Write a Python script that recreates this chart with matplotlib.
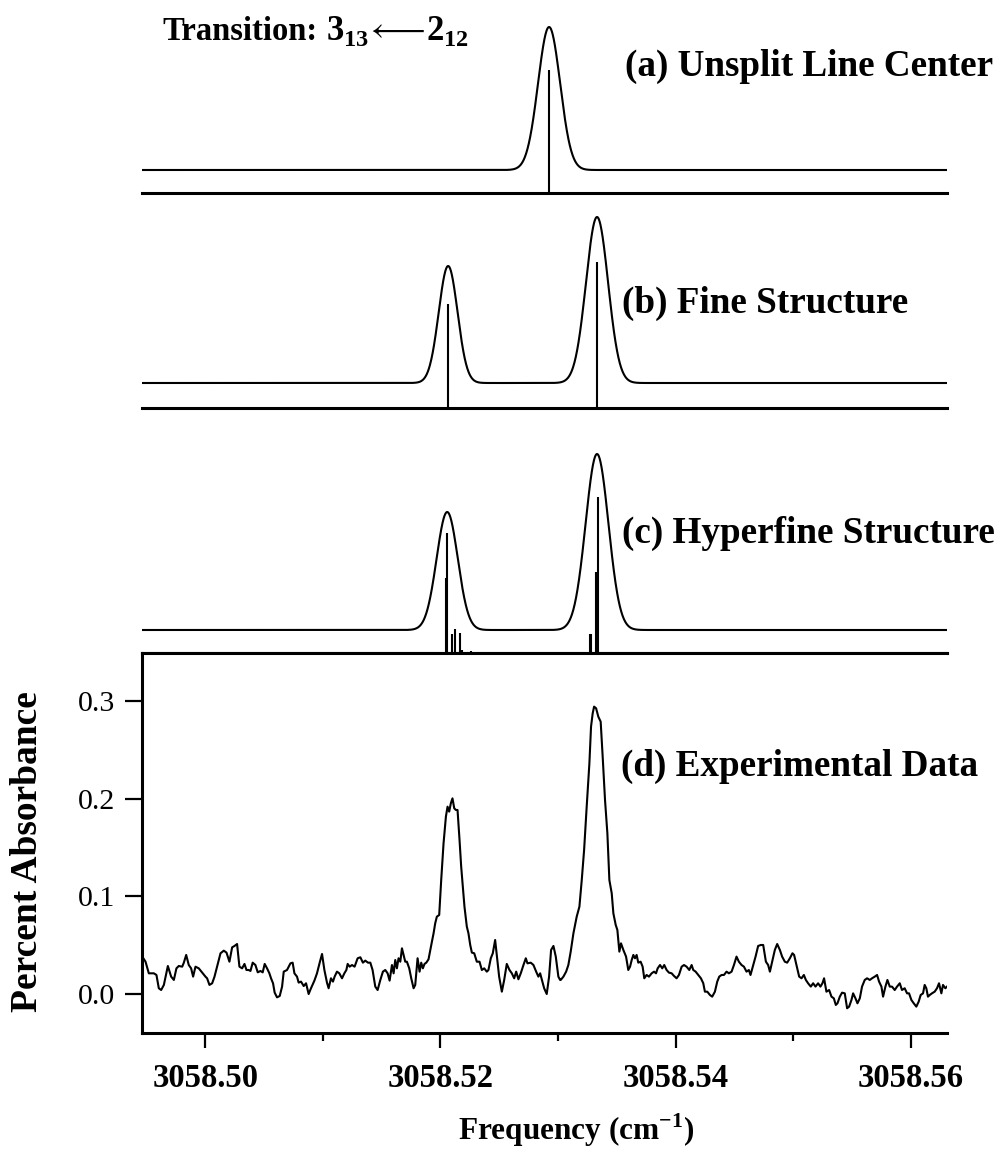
import numpy as np
import matplotlib
matplotlib.use("Agg")
import matplotlib.pyplot as plt
from matplotlib.ticker import MultipleLocator, FormatStrFormatter

plt.rcParams["font.family"] = "Liberation Serif"
plt.rcParams["mathtext.fontset"] = "custom"
plt.rcParams["mathtext.rm"] = "Liberation Serif"
plt.rcParams["mathtext.bf"] = "Liberation Serif:bold"

# frequencies are offsets from NU0 in units of 1e-3 cm^-1
NU0 = 3058.50
XMIN, XMAX = 3058.4946, 3058.5631

# (a) unsplit line center
a_centers = [29.24]
a_peaks = [1.43]
a_sigmas = [0.94]
a_base = 0.23
a_sticks = [29.24]
a_heights = [1.23]

# (b) fine structure
b_centers = [20.65, 33.32]
b_peaks = [1.17, 1.66]
b_sigmas = [0.80, 0.94]
b_base = 0.25
b_sticks = [20.65, 33.32]
b_heights = [1.04, 1.46]

# (c) hyperfine structure
c_centers = [20.57, 33.32]
c_peaks = [1.18, 1.76]
c_sigmas = [0.90, 0.97]
c_base = 0.23
c_sticks = [20.48, 20.57, 20.99, 21.25, 21.67, 21.84, 22.61,
            32.72, 32.81, 33.23, 33.40]
c_heights = [0.75, 1.20, 0.19, 0.24, 0.20, 0.03, 0.02,
             0.19, 0.19, 0.81, 1.56]

# (d) experimental data, percent absorbance
d_freq = [
    -5.38, -5.10, -4.82, -4.39, -4.17, -3.97, -3.77, -3.54, -3.20, -2.92,
    -2.69, -2.47, -2.27, -1.98, -1.84, -1.64, -1.42, -1.22, -1.05, -0.85,
    -0.57, -0.28, 0.00, 0.14, 0.34, 0.57, 0.77, 1.05, 1.28, 1.56,
    1.79, 2.04, 2.27, 2.47, 2.69, 2.89, 3.12, 3.32, 3.49, 3.68,
    3.83, 4.02, 4.25, 4.45, 4.68, 4.87, 5.04, 5.24, 5.44, 5.58,
    5.75, 5.89, 6.09, 6.32, 6.52, 6.66, 6.94, 7.23, 7.42, 7.57,
    7.79, 7.93, 8.13, 8.36, 8.56, 8.78, 8.98, 9.27, 9.49, 9.72,
    9.92, 10.12, 10.34, 10.48, 10.68, 10.85, 10.99, 11.19, 11.39, 11.62,
    11.82, 11.99, 12.10, 12.27, 12.47, 12.69, 12.95, 13.18, 13.40, 13.60,
    13.83, 14.03, 14.22, 14.45, 14.65, 14.88, 15.10, 15.30, 15.50, 15.67,
    15.87, 16.01, 16.15, 16.29, 16.43, 16.58, 16.72, 16.86, 17.00, 17.14,
    17.34, 17.51, 17.71, 17.85, 18.05, 18.22, 18.36, 18.50, 18.64, 18.79,
    18.98, 19.13, 19.27, 19.41, 19.55, 19.69, 19.89, 20.06, 20.26, 20.46,
    20.60, 20.74, 20.88, 21.02, 21.17, 21.31, 21.45, 21.62, 21.76, 21.90,
    22.04, 22.24, 22.38, 22.53, 22.67, 22.87, 23.09, 23.32, 23.52, 23.72,
    23.94, 24.08, 24.28, 24.45, 24.65, 24.79, 24.99, 25.22, 25.42, 25.64,
    25.87, 26.07, 26.27, 26.44, 26.63, 26.83, 27.06, 27.26, 27.40, 27.68,
    27.91, 28.14, 28.33, 28.48, 28.67, 28.82, 29.04, 29.24, 29.41, 29.61,
    29.81, 30.03, 30.18,
    30.23, 30.46, 30.69, 30.88, 31.08, 31.31, 31.59, 31.82, 32.02, 32.22,
    32.44, 32.67, 32.81, 32.95, 33.07, 33.24, 33.43, 33.63, 33.80, 34.00,
    34.20, 34.37, 34.57, 34.71, 34.91, 35.05, 35.22, 35.36, 35.56, 35.79,
    35.98, 36.13, 36.27, 36.41, 36.55, 36.69, 36.83, 37.03, 37.20, 37.34,
    37.54, 37.74, 37.97, 38.17, 38.34, 38.48, 38.68, 38.87, 39.04, 39.24,
    39.44, 39.67, 39.87, 40.09, 40.29, 40.52, 40.72, 40.94, 41.17, 41.37,
    41.51, 41.71, 41.93, 42.16, 42.36, 42.50, 42.70, 42.93, 43.12, 43.35,
    43.55, 43.72, 43.92, 44.12, 44.34, 44.54, 44.77, 44.97, 45.19, 45.39,
    45.62, 45.82, 46.04, 46.24, 46.38, 46.61, 46.81, 47.03, 47.26, 47.46,
    47.69, 47.88, 48.03, 48.22, 48.45, 48.65, 48.88, 49.07, 49.30, 49.50,
    49.73, 49.95, 50.09, 50.29, 50.52, 50.72, 50.92, 51.09, 51.28, 51.51,
    51.71, 51.91, 52.13, 52.33, 52.50, 52.64, 52.84, 53.07, 53.27, 53.47,
    53.64, 53.78, 53.98, 54.17, 54.40, 54.60, 54.77, 54.97, 55.11, 55.31,
    55.48, 55.68, 55.87, 56.10, 56.30, 56.53, 56.72, 56.95, 57.15, 57.32,
    57.52, 57.66, 57.86, 58.03, 58.23, 58.42, 58.65, 58.85, 59.08, 59.27,
    59.50, 59.70, 59.87, 60.07, 60.27, 60.49, 60.69, 60.86, 61.06, 61.20,
    61.34, 61.48, 61.63, 61.82, 62.05, 62.25, 62.42, 62.62, 62.76, 62.96,
    63.10,
]
d_absorb = [
    0.0382, 0.0330, 0.0211, 0.0211, 0.0194, 0.0058, 0.0040, 0.0092, 0.0286, 0.0177,
    0.0143, 0.0262, 0.0286, 0.0279, 0.0320, 0.0399, 0.0296, 0.0262, 0.0177, 0.0279,
    0.0262, 0.0218, 0.0177, 0.0160, 0.0092, 0.0109, 0.0177, 0.0307, 0.0416, 0.0443,
    0.0423, 0.0330, 0.0477, 0.0491, 0.0511, 0.0279, 0.0262, 0.0307, 0.0245, 0.0245,
    0.0235, 0.0320, 0.0296, 0.0221, 0.0235, 0.0221, 0.0307, 0.0262, 0.0211, 0.0160,
    0.0109, 0.0013, -0.0035, -0.0021, 0.0075, 0.0228, 0.0245, 0.0313, 0.0320, 0.0211,
    0.0177, 0.0116, 0.0126, 0.0081, 0.0109, -0.0001, 0.0058, 0.0136, 0.0211, 0.0320,
    0.0409, 0.0245, 0.0116, 0.0058, 0.0160, 0.0126, 0.0177, 0.0228, 0.0211, 0.0160,
    0.0211, 0.0245, 0.0307, 0.0279, 0.0296, 0.0279, 0.0365, 0.0375, 0.0320, 0.0341,
    0.0320, 0.0320, 0.0245, 0.0075, 0.0040, 0.0143, 0.0228, 0.0245, 0.0211, 0.0136,
    0.0296, 0.0211, 0.0347, 0.0262, 0.0365, 0.0330, 0.0467, 0.0399, 0.0330, 0.0330,
    0.0262, 0.0160, 0.0058, 0.0092, 0.0365, 0.0228, 0.0320, 0.0262, 0.0307, 0.0320,
    0.0354, 0.0450, 0.0535, 0.0620, 0.0723, 0.0791, 0.0808, 0.1166, 0.1542, 0.1815,
    0.1917, 0.1866, 0.1951, 0.2002, 0.1900, 0.1883, 0.1883, 0.1576, 0.1303, 0.1098,
    0.0893, 0.0689, 0.0620, 0.0501, 0.0423, 0.0416, 0.0330, 0.0330, 0.0245, 0.0262,
    0.0228, 0.0245, 0.0365, 0.0416, 0.0552, 0.0399, 0.0177, 0.0023, 0.0143, 0.0307,
    0.0245, 0.0211, 0.0160, 0.0228, 0.0150, 0.0211, 0.0296, 0.0365, 0.0313, 0.0320,
    0.0296, 0.0228, 0.0177, 0.0211, 0.0126, 0.0058, -0.0001, 0.0177, 0.0450, 0.0491,
    0.0382, 0.0177, 0.0143,
    0.0143, 0.0177, 0.0228, 0.0296, 0.0433, 0.0620, 0.0791, 0.0893, 0.1166, 0.1473,
    0.1917, 0.2361, 0.2736, 0.2872, 0.2941, 0.2924, 0.2838, 0.2787, 0.2429, 0.1985,
    0.1644, 0.1166, 0.1030, 0.0825, 0.0706, 0.0655, 0.0433, 0.0518, 0.0450, 0.0382,
    0.0245, 0.0279, 0.0347, 0.0399, 0.0365, 0.0399, 0.0320, 0.0330, 0.0279, 0.0160,
    0.0194, 0.0177, 0.0211, 0.0228, 0.0211, 0.0262, 0.0296, 0.0262, 0.0296, 0.0245,
    0.0218, 0.0211, 0.0184, 0.0160, 0.0194, 0.0279, 0.0296, 0.0279, 0.0245, 0.0296,
    0.0245, 0.0228, 0.0194, 0.0160, 0.0109, 0.0023, 0.0023, -0.0011, -0.0028, 0.0023,
    0.0126, 0.0177, 0.0194, 0.0194, 0.0228, 0.0211, 0.0228, 0.0296, 0.0382, 0.0330,
    0.0296, 0.0279, 0.0228, 0.0245, 0.0194, 0.0296, 0.0382, 0.0491, 0.0501, 0.0501,
    0.0330, 0.0296, 0.0228, 0.0330, 0.0450, 0.0511, 0.0450, 0.0382, 0.0330, 0.0320,
    0.0365, 0.0416, 0.0399, 0.0296, 0.0177, 0.0160, 0.0194, 0.0143, 0.0109, 0.0075,
    0.0109, 0.0075, 0.0109, 0.0075, 0.0109, 0.0160, 0.0023, 0.0040, -0.0028, -0.0045,
    -0.0113, -0.0096, -0.0028, 0.0013, 0.0006, -0.0147, -0.0130, -0.0062, 0.0006, -0.0045,
    -0.0096, -0.0045, 0.0075, 0.0143, 0.0160, 0.0143, 0.0160, 0.0177, 0.0194, 0.0126,
    0.0075, -0.0028, 0.0075, 0.0143, 0.0075, 0.0075, 0.0040, 0.0075, 0.0109, 0.0040,
    0.0058, 0.0006, 0.0006, -0.0062, -0.0096, -0.0130, -0.0079, -0.0011, 0.0006, 0.0092,
    0.0058, -0.0028, -0.0011, 0.0006, 0.0023, 0.0058, 0.0109, 0.0006, 0.0092, 0.0058,
    0.0075,
]

W, H = 1002, 1156
LW = 1.5      # line width of curves
SPINE = 2.2


def to_nu(offsets):
    return NU0 + 1e-3 * np.asarray(offsets)


def sim_panel(ax, centers, peaks, sigmas, base, sticks, heights, top):
    """Gaussian profile above a stick spectrum, only bottom axis line."""
    nu = np.linspace(XMIN, XMAX, 3000)
    prof = np.full_like(nu, base)
    for c, p, s in zip(centers, peaks, sigmas):
        prof += p * np.exp(-0.5 * ((nu - to_nu(c)) / (s * 1e-3)) ** 2)
    ax.plot(nu, prof, color="k", lw=LW)
    ax.vlines(to_nu(sticks), 0, heights, color="k", lw=LW)
    ax.set_xlim(XMIN, XMAX)
    ax.set_ylim(0, top)
    for side in ("left", "right", "top"):
        ax.spines[side].set_visible(False)
    ax.spines["bottom"].set_linewidth(SPINE)
    ax.set_xticks([])
    ax.set_yticks([])
    ax.patch.set_alpha(0)


fig = plt.figure(figsize=(W / 100, H / 100), dpi=100)
left, width = 142 / W, 805 / W

ax_a = fig.add_axes([left, 1 - 193 / H, width, 183 / H])
ax_b = fig.add_axes([left, 1 - 408 / H, width, 208 / H])
ax_c = fig.add_axes([left, 1 - 653 / H, width, 223 / H])
ax_d = fig.add_axes([left, 1 - 1033 / H, width, 380 / H])

sim_panel(ax_a, a_centers, a_peaks, a_sigmas, a_base, a_sticks, a_heights, 1.83)
sim_panel(ax_b, b_centers, b_peaks, b_sigmas, b_base, b_sticks, b_heights, 2.08)
sim_panel(ax_c, c_centers, c_peaks, c_sigmas, c_base, c_sticks, c_heights, 2.23)

# experimental panel
ax_d.plot(to_nu(d_freq), d_absorb, color="k", lw=LW)
ax_d.set_xlim(XMIN, XMAX)
ax_d.set_ylim(-0.040, 0.349)
ax_d.spines["right"].set_visible(False)
for side in ("left", "top", "bottom"):
    ax_d.spines[side].set_linewidth(SPINE)
ax_d.xaxis.set_major_locator(MultipleLocator(0.02))
ax_d.xaxis.set_minor_locator(MultipleLocator(0.01))
ax_d.xaxis.set_major_formatter(FormatStrFormatter("%.2f"))
ax_d.yaxis.set_major_locator(MultipleLocator(0.1))
ax_d.yaxis.set_major_formatter(FormatStrFormatter("%.1f"))
ax_d.tick_params(axis="x", which="major", direction="out", length=10.8, width=1.6,
                 pad=11, labelsize=23.5)
ax_d.tick_params(axis="x", which="minor", direction="out", length=5.8, width=1.6)
ax_d.tick_params(axis="y", which="major", direction="out", length=12, width=1.6,
                 pad=7, labelsize=21.5)
ax_d.tick_params(top=False, right=False, which="both")
for lab in ax_d.get_xticklabels():
    lab.set_fontweight("bold")

# texts
fig.text(162 / W, 1 - 40 / H, "Transition:",
         fontsize=23.5, fontweight="bold", va="baseline", ha="left")
fig.text(326 / W, 1 - 40 / H,
         r"$\mathbf{3}_{\mathbf{13}}\!\longleftarrow\!\mathbf{2}_{\mathbf{12}}$",
         fontsize=25, va="baseline", ha="left")
panel_labels = ["(a) Unsplit Line Center", "(b) Fine Structure",
                "(c) Hyperfine Structure", "(d) Experimental Data"]
label_x = [625, 622, 622, 621]
label_base = [76, 313, 543, 776]
for txt, lx, ly in zip(panel_labels, label_x, label_base):
    fig.text(lx / W, 1 - ly / H, txt, fontsize=26.7, fontweight="bold",
             va="baseline", ha="left")

fig.text(28 / W, 1 - 852 / H, "Percent Absorbance", rotation=90,
         fontsize=27, fontweight="bold", ha="center", va="center")
fig.text(576 / W, 1 - 1140 / H, r"Frequency (cm$^{\mathbf{-1}}$)",
         fontsize=22.5, fontweight="bold", ha="center", va="baseline")

fig.savefig("out.png", dpi=100)
